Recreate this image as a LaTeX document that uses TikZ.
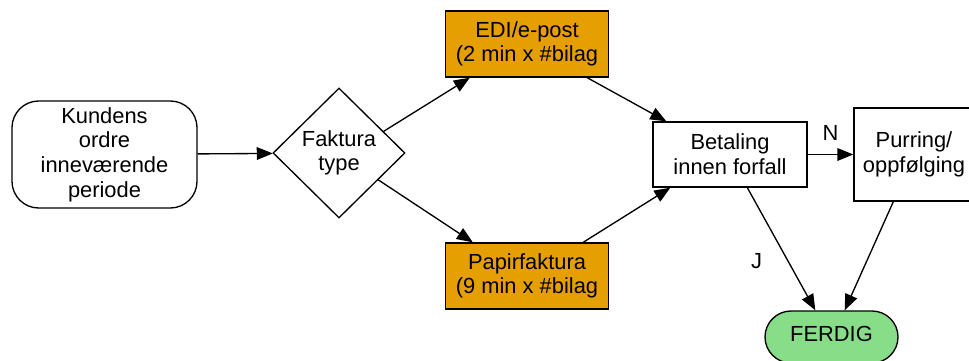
\documentclass[tikz,border=0pt]{standalone}
\usepackage{fontspec}
\setmainfont{Liberation Sans}
\usetikzlibrary{shapes.geometric,arrows.meta,calc}
\definecolor{boxorange}{RGB}{230,159,0}
\definecolor{donegreen}{RGB}{136,221,136}
\tikzset{
  base/.style={draw=black, line width=1pt, align=center, inner sep=0pt,
    font=\fontsize{16.4}{18.5}\selectfont, text=black},
  procbox/.style={base, rectangle},
  orangebox/.style={procbox, fill=boxorange},
  startbox/.style={base, rectangle, rounded corners=20pt},
  endbox/.style={base, rectangle, rounded corners=19.5pt, fill=donegreen},
  decision/.style={base, diamond},
  flow/.style={line width=1pt, -{Triangle[length=12pt,width=9.5pt]}},
  edgelabel/.style={font=\fontsize{16.4}{18.5}\selectfont, inner sep=0pt}
}
\begin{document}
\begin{tikzpicture}[x=0.75pt,y=-0.75pt]
\useasboundingbox (0,0) rectangle (969,360);
\clip (0,0) rectangle (969,360);
\fill[white] (0,0) rectangle (969,360);

\node[startbox, minimum width=138.75pt, minimum height=80.25pt] (kund) at (104.5,154.5)
  {Kundens\\ordre\\inneværende\\periode};
\node[decision, minimum width=99pt, minimum height=97.5pt] (dia) at (339,153)
  {Faktura\\type};
\node[orangebox, minimum width=122.25pt, minimum height=49.5pt] (edi) at (527,44)
  {EDI/e-post\\(2 min x \#bilag};
\node[orangebox, minimum width=122.25pt, minimum height=49.5pt] (pap) at (527,276)
  {Papirfaktura\\(9 min x \#bilag};
\node[procbox, minimum width=115.5pt, minimum height=48.75pt] (bet) at (730,154.5)
  {Betaling\\innen forfall};
\node[procbox, minimum width=90pt, minimum height=69.75pt] (pur) at (914,154.5)
  {Purring/\\oppfølging};
\node[endbox, minimum width=99.75pt, minimum height=39pt, text height=11.5pt, text depth=5pt] (fer) at (831.5,337)
  {FERDIG};

\draw[flow] (kund) -- (dia);
\draw[flow] ($(dia.north)!0.67!(dia.east)$) -- ($(edi.south west)+(25,0)$);
\draw[flow] ($(edi.south east)+(-22,0)$) -- ($(bet.north west)+(14,0)$);
\draw[flow] ($(dia.east)!0.41!(dia.south)$) -- ($(pap.north west)+(28,0)$);
\draw[flow] ($(pap.north east)+(-26,0)$) -- ($(bet.south west)+(18,0)$);
\draw[flow] (bet.east) -- node[edgelabel, above=10pt] {N} (pur.west);
\draw[flow] ($(bet.south west)+(95,0)$) -- node[edgelabel, pos=0.6, left=19pt] {J} ($(fer.north west)+(51,0)$);
\draw[flow] ($(pur.south west)+(40,0)$) -- ($(fer.north east)+(-54,0)$);
\end{tikzpicture}
\end{document}
